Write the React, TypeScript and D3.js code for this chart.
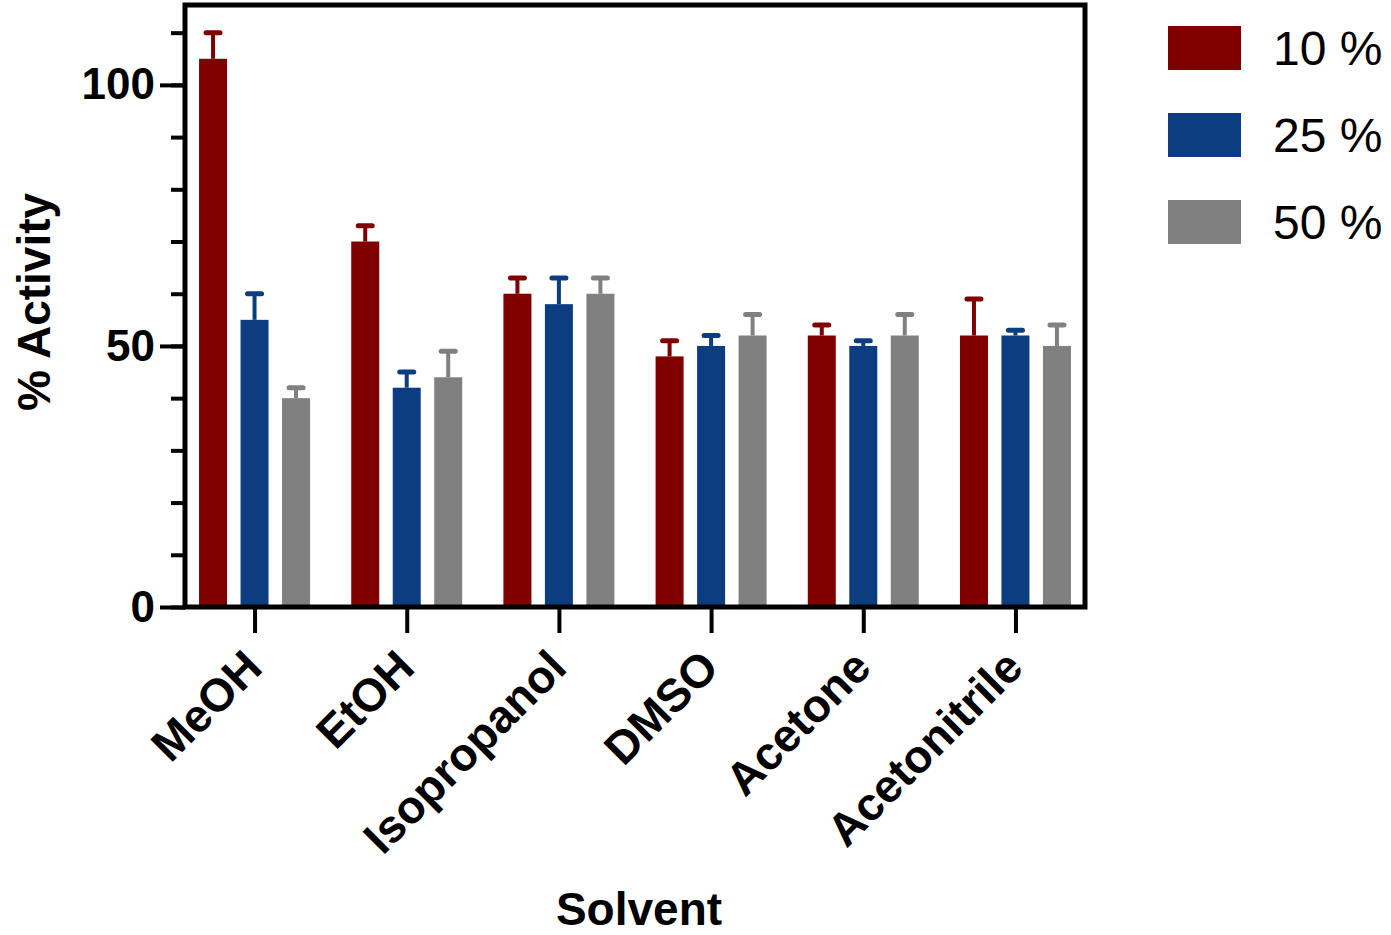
import React, { useEffect, useRef } from "react";
import * as d3 from "d3";

// Solvent categories and the three solvent concentrations
const categories = ["MeOH", "EtOH", "Isopropanol", "DMSO", "Acetone", "Acetonitrile"];
const seriesNames = ["10 %", "25 %", "50 %"];

// Mean % activity per solvent
const activity10 = [105, 70, 60, 48, 52, 52];
const activity25 = [55, 42, 58, 50, 50, 52];
const activity50 = [40, 44, 60, 52, 52, 50];

// Upper error (SD) per solvent
const error10 = [5, 3, 3, 3, 2, 7];
const error25 = [5, 3, 5, 2, 1, 1];
const error50 = [2, 5, 3, 4, 4, 4];

const minorTicks = [0, 10, 20, 30, 40, 50, 60, 70, 80, 90, 100, 110];
const majorTicks = [0, 50, 100];

const colors = ["#800000", "#0b3d80", "#808080"];
const FONT = "'Liberation Sans', Arial, Helvetica, sans-serif";

const BarChart = () => {
  const ref = useRef<SVGSVGElement | null>(null);

  useEffect(() => {
    const svg = d3.select(ref.current);
    svg.selectAll("*").remove();

    const left = 185;
    const right = 1085;
    const top = 5;
    const bottom = 607;

    const values = [activity10, activity25, activity50];
    const errors = [error10, error25, error50];

    const data = categories.flatMap((cat, i) =>
      seriesNames.map((s, j) => ({
        cat,
        series: s,
        value: values[j][i],
        err: errors[j][i],
        color: colors[j],
      }))
    );

    // scales
    const x0 = d3.scalePoint<string>().domain(categories).range([left, right]).padding(0.457);
    const x1 = d3.scaleBand<string>().domain(seriesNames).range([-55.5, 55.5]).paddingInner(0.325);
    const y = d3.scaleLinear().domain([0, 115.3]).range([bottom, top]);

    // bars
    svg
      .append("g")
      .selectAll("rect")
      .data(data)
      .join("rect")
      .attr("x", (d) => (x0(d.cat) as number) + (x1(d.series) as number))
      .attr("y", (d) => y(d.value))
      .attr("width", x1.bandwidth())
      .attr("height", (d) => bottom - y(d.value))
      .attr("fill", (d) => d.color);

    // error bars (upper only)
    const cx = (d: any) => (x0(d.cat) as number) + (x1(d.series) as number) + x1.bandwidth() / 2;
    const eb = svg.append("g");
    eb.selectAll("line.stem")
      .data(data)
      .join("line")
      .attr("class", "stem")
      .attr("x1", cx)
      .attr("x2", cx)
      .attr("y1", (d) => y(d.value))
      .attr("y2", (d) => y(d.value + d.err))
      .attr("stroke", (d) => d.color)
      .attr("stroke-width", 4);
    eb.selectAll("line.cap")
      .data(data)
      .join("line")
      .attr("class", "cap")
      .attr("x1", (d) => cx(d) - 7)
      .attr("x2", (d) => cx(d) + 7)
      .attr("y1", (d) => y(d.value + d.err))
      .attr("y2", (d) => y(d.value + d.err))
      .attr("stroke", (d) => d.color)
      .attr("stroke-width", 5)
      .attr("stroke-linecap", "round");

    // frame
    svg
      .append("rect")
      .attr("x", left)
      .attr("y", top)
      .attr("width", right - left)
      .attr("height", bottom - top)
      .attr("fill", "none")
      .attr("stroke", "black")
      .attr("stroke-width", 5);

    // y axis: minor ticks
    const yMinor = svg
      .append("g")
      .attr("transform", `translate(${left},0)`)
      .call(d3.axisLeft(y).tickValues(minorTicks).tickSize(14).tickFormat(() => ""));
    yMinor.select(".domain").remove();
    yMinor.selectAll("line").attr("stroke", "black").attr("stroke-width", 4);

    // y axis: major ticks with labels
    const yMajor = svg
      .append("g")
      .attr("transform", `translate(${left},0)`)
      .call(d3.axisLeft(y).tickValues(majorTicks).tickSize(25).tickPadding(5));
    yMajor.select(".domain").remove();
    yMajor.selectAll("line").attr("stroke", "black").attr("stroke-width", 4);
    yMajor
      .selectAll("text")
      .attr("font-family", FONT)
      .attr("font-size", 44)
      .attr("font-weight", "bold")
      .attr("fill", "black");

    // x axis
    const xAxis = svg
      .append("g")
      .attr("transform", `translate(0,${bottom})`)
      .call(d3.axisBottom(x0).tickSize(26).tickFormat(() => ""));
    xAxis.select(".domain").remove();
    xAxis.selectAll("line").attr("stroke", "black").attr("stroke-width", 4);

    svg
      .append("g")
      .selectAll("text")
      .data(categories)
      .join("text")
      .attr("transform", (d) => `translate(${(x0(d) as number) + 10},670) rotate(-45)`)
      .attr("text-anchor", "end")
      .attr("font-family", FONT)
      .attr("font-size", 46)
      .attr("font-weight", "bold")
      .text((d) => d);

    // axis titles
    svg
      .append("text")
      .attr("transform", "translate(50,302) rotate(-90)")
      .attr("text-anchor", "middle")
      .attr("font-family", FONT)
      .attr("font-size", 46)
      .attr("font-weight", "bold")
      .text("% Activity");

    svg
      .append("text")
      .attr("x", 639)
      .attr("y", 925)
      .attr("text-anchor", "middle")
      .attr("font-family", FONT)
      .attr("font-size", 46)
      .attr("font-weight", "bold")
      .text("Solvent");

    // legend
    const legend = svg
      .append("g")
      .selectAll("g")
      .data(seriesNames)
      .join("g")
      .attr("transform", (_, i) => `translate(1168,${26 + i * 87})`);
    legend
      .append("rect")
      .attr("width", 73)
      .attr("height", 44)
      .attr("fill", (_, i) => colors[i]);
    legend
      .append("text")
      .attr("x", 105)
      .attr("y", 39)
      .attr("font-family", FONT)
      .attr("font-size", 48)
      .text((d) => d);
  }, []);

  return (
    <svg
      ref={ref}
      width="1391"
      height="935"
      style={{ position: "absolute", left: 0, top: 0, background: "white" }}
    ></svg>
  );
};

export default function App() {
  return <BarChart />;
}
